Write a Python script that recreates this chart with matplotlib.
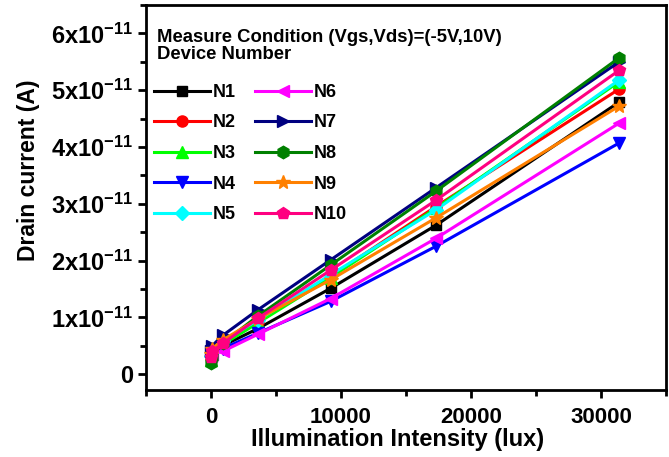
import matplotlib
matplotlib.use("Agg")
import matplotlib.pyplot as plt
from matplotlib.ticker import MultipleLocator, FixedLocator, FuncFormatter

plt.rcParams['font.family'] = ['Liberation Sans', 'DejaVu Sans']
plt.rcParams['font.weight'] = 'bold'
plt.rcParams['mathtext.fontset'] = 'custom'
plt.rcParams['mathtext.rm'] = 'Liberation Sans:bold'
plt.rcParams['mathtext.bf'] = 'Liberation Sans:bold'
plt.rcParams['mathtext.default'] = 'rm'

# illumination (lux)
lux = [0, 100, 900, 3600, 9200, 17300, 31400]

# drain current in units of 1e-11 A
n1 = [0.30, 0.35, 0.50, 0.80, 1.51, 2.62, 4.79]
n2 = [0.28, 0.38, 0.55, 0.92, 1.72, 2.95, 5.02]
n3 = [0.25, 0.35, 0.52, 0.90, 1.70, 2.92, 5.15]
n4 = [0.35, 0.40, 0.45, 0.72, 1.28, 2.25, 4.07]
n5 = [0.32, 0.40, 0.58, 0.95, 1.75, 2.89, 5.18]
n6 = [0.32, 0.36, 0.40, 0.70, 1.33, 2.39, 4.42]
n7 = [0.40, 0.50, 0.68, 1.13, 2.01, 3.28, 5.50]
n8 = [0.20, 0.30, 0.55, 1.02, 1.92, 3.22, 5.57]
n9 = [0.35, 0.45, 0.60, 0.97, 1.66, 2.75, 4.72]
n10 = [0.30, 0.40, 0.54, 0.98, 1.83, 3.06, 5.35]

names = ['N1', 'N2', 'N3', 'N4', 'N5', 'N6', 'N7', 'N8', 'N9', 'N10']
series = [n1, n2, n3, n4, n5, n6, n7, n8, n9, n10]
colors = ['#000000', '#ff0000', '#00ff00', '#0000ff', '#00ffff',
          '#ff00ff', '#000080', '#008000', '#ff8000', '#ff0080']
markers = ['s', 'o', '^', 'v', 'D', '<', '>', 'h', '*', 'p']
msizes = [7, 8, 8, 8, 7, 8, 8, 9, 10, 9]

xticks = [0, 10000, 20000, 30000]
yticks = [0, 1e-11, 2e-11, 3e-11, 4e-11, 5e-11, 6e-11]

fig = plt.figure(figsize=(6.69, 4.57), dpi=100)
ax = fig.add_axes([0.2182, 0.1466, 0.7773, 0.8425])

for name, vals, c, m, ms in zip(names, series, colors, markers, msizes):
    ax.plot(lux, [v * 1e-11 for v in vals], color=c, marker=m, markersize=ms,
            linewidth=2.2, label=name)

ax.set_xlim(-5000, 35000)
ax.set_ylim(-0.28e-11, 6.5e-11)
ax.xaxis.set_major_locator(FixedLocator(xticks))
ax.xaxis.set_minor_locator(MultipleLocator(5000))
ax.yaxis.set_major_locator(FixedLocator(yticks))
ax.yaxis.set_minor_locator(MultipleLocator(0.5e-11))

def yfmt(v, pos):
    k = int(round(v / 1e-11))
    if k == 0:
        return '0'
    return r'%dx10$^{-11}$' % k

ax.yaxis.set_major_formatter(FuncFormatter(yfmt))
ax.xaxis.set_major_formatter(FuncFormatter(lambda v, p: '%d' % v))

for s in ax.spines.values():
    s.set_linewidth(2)
ax.tick_params(which='major', direction='out', length=6, width=2, labelsize=16)
ax.tick_params(which='minor', direction='out', length=4, width=2)
ax.tick_params(axis='x', which='major', pad=6)
ax.tick_params(axis='y', which='major', pad=3, labelsize=17)

ax.set_xlabel('Illumination Intensity (lux)', fontsize=17, fontweight='bold')
ax.set_ylabel('Drain current (A)', fontsize=16.5, fontweight='bold')
ax.xaxis.set_label_coords(0.484, -0.099)
ax.yaxis.set_label_coords(-0.203, 0.571)

# header text above the legend
ax.text(0.021, 0.937, 'Measure Condition (Vgs,Vds)=(-5V,10V)\nDevice Number',
        transform=ax.transAxes, ha='left', va='top', fontsize=13.3,
        fontweight='bold', linespacing=1.0)

leg = ax.legend(ncol=2, loc='upper left', bbox_to_anchor=(0.015, 0.795),
                prop={'size': 13, 'weight': 'bold'}, frameon=False,
                handlelength=3.1, handletextpad=0.15, columnspacing=1.1,
                labelspacing=0.75, borderpad=0, borderaxespad=0)

fig.savefig('out.png', dpi=100)
